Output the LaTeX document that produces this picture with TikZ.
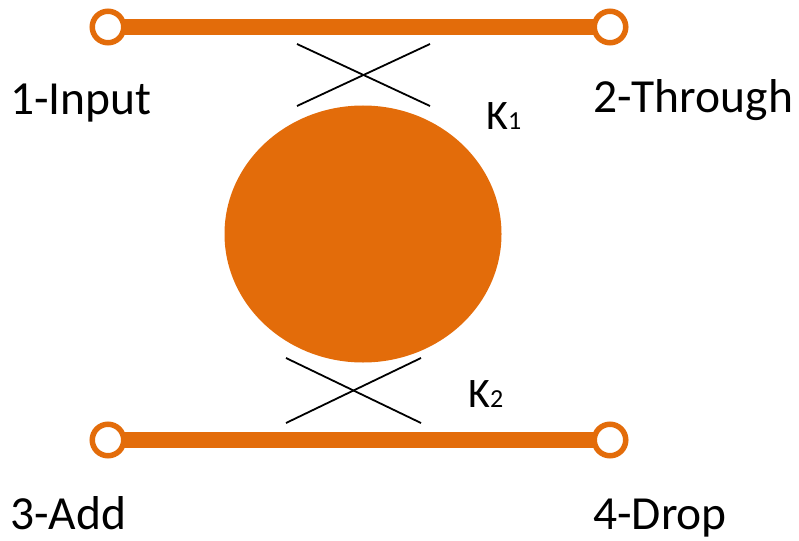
\documentclass[tikz,border=0pt]{standalone}
\usepackage{fontspec}
\setmainfont{Carlito}
\usepackage{tikz}
\usetikzlibrary{calc}
\definecolor{ringorange}{RGB}{227,108,10}
\tikzset{
  port/.style={circle,draw=ringorange,fill=white,line width=5.5pt,minimum size=31.5pt,inner sep=0pt},
  guide/.style={draw=ringorange,line width=15.5pt,shorten <=-3pt,shorten >=-3pt},
  coupler/.style={draw=black,line width=1.8pt},
  portlabel/.style={anchor=base west,inner sep=0pt,font=\fontsize{47.5}{47.5}\selectfont},
  klabel/.style={anchor=base west,inner sep=0pt,font=\fontsize{42}{42}\selectfont}
}
\begin{document}
\begin{tikzpicture}[x=1pt,y=-1pt]
  \useasboundingbox (0,0) rectangle (799,540);
  \node[port] (in) at (108,27) {};
  \node[port] (thru) at (610,27) {};
  \node[port] (add) at (108,440) {};
  \node[port] (drop) at (610,440) {};
  \draw[guide] (in) -- (thru);
  \draw[guide] (add) -- (drop);
  \fill[ringorange] (363,234) ellipse [x radius=138.5,y radius=128.5];
  \coordinate (k1a) at (297,44);
  \coordinate (k1b) at (430,106);
  \coordinate (k1c) at (297,106);
  \coordinate (k1d) at (430,44);
  \draw[coupler] (k1a) -- (k1b);
  \draw[coupler] (k1c) -- (k1d);
  \coordinate (k2a) at (286,358);
  \coordinate (k2b) at (421,423);
  \coordinate (k2c) at (286,423);
  \coordinate (k2d) at (421,358);
  \draw[coupler] (k2a) -- (k2b);
  \draw[coupler] (k2c) -- (k2d);
  \node[portlabel] (inlabel) at (10,115) {1-Input};
  \node[portlabel] (thrulabel) at (593,113) {2-Through};
  \node[portlabel] (addlabel) at (10,529) {3-Add};
  \node[portlabel] (droplabel) at (593,529) {4-Drop};
  \node[klabel] (k1label) at (486,130) {K\fontsize{26}{26}\selectfont 1};
  \node[klabel] (k2label) at (468,407) {K\fontsize{26}{26}\selectfont 2};
\end{tikzpicture}
\end{document}
